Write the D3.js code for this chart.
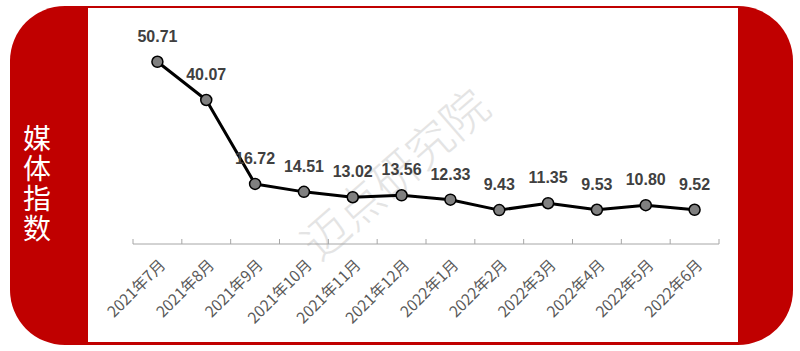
<!DOCTYPE html>
<html>
<head>
<meta charset="utf-8">
<script src="https://cdn.jsdelivr.net/npm/d3@7"></script>
<style>
  body { margin: 0; background: #fff; }
  svg { display: block; }
</style>
</head>
<body>
<svg id="chart" width="800" height="351"></svg>
<script>
(function() {
  // data
  const months = ['2021年7月', '2021年8月', '2021年9月', '2021年10月', '2021年11月', '2021年12月',
                  '2022年1月', '2022年2月', '2022年3月', '2022年4月', '2022年5月', '2022年6月'];
  const values = [50.71, 40.07, 16.72, 14.51, 13.02, 13.56, 12.33, 9.43, 11.35, 9.53, 10.80, 9.52];
  const title = '媒体指数';

  const RED = '#c00000';
  const svg = d3.select('#chart');

  // frame: red rounded panel with white inner card
  svg.append('rect')
    .attr('x', 10).attr('y', 6)
    .attr('width', 783).attr('height', 339)
    .attr('rx', 55).attr('ry', 55)
    .attr('fill', RED);
  svg.append('rect')
    .attr('x', 88).attr('y', 8)
    .attr('width', 650).attr('height', 334)
    .attr('fill', '#fff');

  // vertical title
  svg.append('text')
    .attr('x', 37)
    .attr('y', 184)
    .attr('text-anchor', 'middle')
    .attr('fill', '#fff')
    .style('writing-mode', 'vertical-rl')
    .style('letter-spacing', '2px')
    .style('font-family', '"Noto Sans CJK SC", sans-serif')
    .style('font-size', '28px')
    .text(title);

  // watermark
  svg.append('text')
    .attr('transform', 'translate(393,172) rotate(-41)')
    .attr('text-anchor', 'middle')
    .attr('dominant-baseline', 'central')
    .attr('fill', '#e4e4e4')
    .style('font-family', '"Noto Sans CJK SC", sans-serif')
    .style('font-weight', 300)
    .style('font-size', '46px')
    .text('迈点研究院');

  // scales
  const x = d3.scaleBand().domain(months).range([133, 719]).padding(0);
  const y = d3.scaleLinear().domain([0, 60]).range([244, 28.4]);
  const cx = d => x(d) + x.bandwidth() / 2;

  // axis
  const axis = svg.append('g').attr('class', 'axis');
  axis.append('line')
    .attr('x1', x.range()[0]).attr('x2', x.range()[1])
    .attr('y1', y(0)).attr('y2', y(0))
    .attr('stroke', '#a6a6a6').attr('stroke-width', 1);
  const edges = months.map(m => x(m)).concat([x.range()[1]]);
  axis.selectAll('.tick')
    .data(edges)
    .enter().append('line')
    .attr('x1', d => d).attr('x2', d => d)
    .attr('y1', y(0) - 5).attr('y2', y(0))
    .attr('stroke', '#a6a6a6').attr('stroke-width', 1);
  axis.selectAll('.lbl')
    .data(months)
    .enter().append('text')
    .attr('transform', d => 'translate(' + (cx(d) + 9) + ',' + (y(0) + 22) + ') rotate(-45)')
    .attr('text-anchor', 'end')
    .attr('fill', '#595959')
    .style('font-family', '"Noto Sans CJK SC", sans-serif')
    .style('font-size', '15.5px')
    .text(d => d);

  // line
  const pts = months.map((m, i) => ({ m: m, v: values[i] }));
  svg.append('path')
    .datum(pts)
    .attr('fill', 'none')
    .attr('stroke', '#000')
    .attr('stroke-width', 3)
    .attr('stroke-linejoin', 'round')
    .attr('d', d3.line().x(d => cx(d.m)).y(d => y(d.v)));

  svg.append('g').selectAll('circle')
    .data(pts)
    .enter().append('circle')
    .attr('cx', d => cx(d.m))
    .attr('cy', d => y(d.v))
    .attr('r', 5.5)
    .attr('fill', '#808080')
    .attr('stroke', '#000')
    .attr('stroke-width', 1.5);

  svg.append('g').selectAll('text')
    .data(pts)
    .enter().append('text')
    .attr('x', d => cx(d.m))
    .attr('y', d => y(d.v) - 20)
    .attr('text-anchor', 'middle')
    .attr('fill', '#404040')
    .style('font-family', '"Liberation Sans", Arial, sans-serif')
    .style('font-weight', 'bold')
    .style('font-size', '16px')
    .text(d => d.v.toFixed(2));
})();
</script>
</body>
</html>
